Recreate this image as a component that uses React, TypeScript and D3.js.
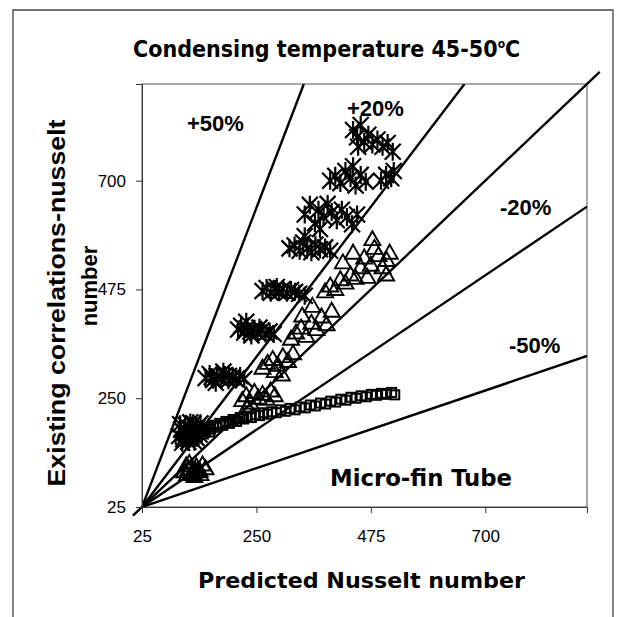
import * as React from 'react';
import { useRef, useEffect } from 'react';
import * as d3 from 'd3';

// tick values on both axes
const xTicks = [25, 250, 475, 700];
const yTicks = [25, 250, 475, 700];

// deviation lines: label, slope through (25,25)
const bandLabels = ['+50%', '+20%', '', '-20%', '-50%'];
const bandSlopes = [2.75, 1.38, 1, 0.71, 0.357];

// asterisk series
const starPoints = [
  [98, 172], [102, 185], [106, 165], [110, 195], [114, 178], [118, 188], [122, 170], [126, 198],
  [130, 182], [134, 190], [138, 175], [142, 185], [108, 180], [120, 200], [132, 168], [104, 158],
  [116, 160], [128, 160], [100, 196], [140, 198],
  [150, 292], [158, 300], [165, 288], [172, 296], [180, 290], [188, 298], [195, 287], [203, 294],
  [210, 289], [218, 296], [226, 290], [185, 305], [170, 282], [162, 294], [196, 296],
  [214, 392], [220, 400], [226, 386], [232, 395], [238, 388], [245, 393], [252, 385], [260, 390],
  [268, 384], [276, 388], [284, 383], [230, 408], [240, 380], [256, 396],
  [262, 472], [270, 478], [278, 468], [286, 475], [294, 470], [302, 476], [310, 468], [318, 474],
  [326, 470], [334, 466], [345, 462], [290, 480],
  [315, 560], [325, 566], [335, 555], [342, 572], [350, 560], [358, 552], [366, 568], [375, 558],
  [385, 562], [395, 555], [345, 585],
  [345, 630], [355, 650], [365, 612], [372, 640], [382, 625], [390, 652], [398, 635], [408, 618],
  [418, 640], [428, 625], [438, 610], [448, 630], [375, 600],
  [395, 700], [405, 710], [415, 695], [425, 720], [435, 705], [445, 690], [455, 712], [465, 698], [440, 730],
  [495, 700], [505, 712], [515, 705], [520, 720],
  [440, 805], [448, 790], [455, 815], [462, 780], [470, 795], [478, 775], [488, 785], [498, 770],
  [508, 778], [518, 760], [450, 770],
];

// open triangle series
const trianglePoints = [
  [108, 98], [114, 92], [120, 104], [126, 96], [132, 108], [138, 100], [144, 112], [150, 104],
  [118, 115], [128, 88], [140, 92], [112, 110], [122, 94], [134, 98], [116, 102], [130, 100],
  [222, 245], [230, 255], [238, 240], [246, 262], [254, 250], [262, 258], [270, 248], [278, 265],
  [286, 255], [232, 232],
  [262, 312], [272, 322], [282, 330], [292, 318], [302, 336], [312, 326], [322, 342], [286, 305], [300, 298],
  [318, 372], [328, 385], [338, 395], [348, 378], [358, 405], [368, 392], [378, 418], [388, 402],
  [398, 430], [340, 420], [360, 440],
  [385, 470], [395, 482], [405, 475], [415, 495], [425, 488], [435, 505], [445, 498], [455, 520],
  [462, 540], [420, 530], [440, 550],
  [468, 500], [475, 525], [482, 560], [490, 545], [498, 520], [506, 535], [512, 550], [505, 505], [478, 578],
];

// open square series
const squarePoints = [
  [100, 165], [104, 172], [108, 168], [112, 176], [116, 170], [120, 180], [124, 174], [128, 182],
  [132, 176], [136, 184], [140, 180], [145, 186], [150, 182], [155, 190], [160, 186], [166, 194],
  [172, 190], [178, 198], [184, 194], [190, 202], [197, 198], [204, 206], [211, 202], [218, 210],
  [225, 207], [232, 213], [240, 210], [248, 216], [256, 214], [264, 220], [272, 217], [280, 222],
  [289, 220], [298, 226], [307, 223], [316, 229], [326, 226], [336, 232], [346, 230], [356, 236],
  [366, 234], [376, 240], [386, 238], [396, 244], [406, 242], [416, 248], [426, 246], [436, 252],
  [446, 250], [456, 255], [466, 253], [476, 258], [486, 256], [496, 260], [506, 258], [516, 262], [522, 257],
  [110, 160], [122, 166], [134, 170], [146, 176], [158, 180],
];

const W = 630;
const H = 617;

const App = () => {
  const svgRef = useRef<SVGSVGElement>(null);

  useEffect(() => {
    const svg = d3.select(svgRef.current);
    svg.selectAll('*').remove();

    const left = 142, right = 587, top = 84, bottom = 507;
    const x = d3.scaleLinear().domain([25, 900]).range([left, right]);
    const y = d3.scaleLinear().domain([25, 900]).range([bottom, top]);

    svg.append('rect').attr('width', W).attr('height', H).attr('fill', '#fff');

    // outer frame (open at bottom)
    svg.append('path')
      .attr('d', `M13,${H + 5}V10H613V${H + 5}`)
      .attr('fill', 'none')
      .attr('stroke', '#444')
      .attr('stroke-width', 1.3);

    const defs = svg.append('defs');
    defs.append('clipPath').attr('id', 'plot-clip')
      .append('rect')
      .attr('x', left).attr('y', top)
      .attr('width', right - left).attr('height', bottom - top);

    // plot frame
    svg.append('rect')
      .attr('x', left).attr('y', top)
      .attr('width', right - left).attr('height', bottom - top)
      .attr('fill', 'none')
      .attr('stroke', '#555')
      .attr('stroke-width', 1);

    // deviation lines
    const lineG = svg.append('g');
    bandSlopes.forEach((s) => {
      if (s === 1) {
        lineG.append('line')
          .attr('x1', x(7)).attr('y1', y(7))
          .attr('x2', x(925)).attr('y2', y(925))
          .attr('stroke', '#000').attr('stroke-width', 2.4);
      } else {
        const xe = Math.min(900, 25 + 875 / s);
        const ye = 25 + (xe - 25) * s;
        lineG.append('line')
          .attr('clip-path', 'url(#plot-clip)')
          .attr('x1', x(25)).attr('y1', y(25))
          .attr('x2', x(xe)).attr('y2', y(ye))
          .attr('stroke', '#000').attr('stroke-width', 2.4);
      }
    });

    // axes
    const yAxis = svg.append('g')
      .attr('transform', `translate(${left},0)`)
      .call(d3.axisLeft(y).tickValues(yTicks).tickSize(6).tickPadding(10));
    const xAxis = svg.append('g')
      .attr('transform', `translate(0,${bottom})`)
      .call(d3.axisBottom(x).tickValues(xTicks).tickSize(6).tickPadding(17));
    [xAxis, yAxis].forEach((a) => {
      a.selectAll('text')
        .attr('font-family', 'Liberation Sans, Arial, sans-serif')
        .attr('font-size', 17)
        .attr('fill', '#000');
      a.selectAll('line').attr('stroke', '#333');
      a.select('.domain').attr('stroke', '#333');
    });

    // markers
    const markG = svg.append('g').attr('fill', 'none').attr('stroke', '#000');
    squarePoints.forEach(([px, py]) => {
      markG.append('rect')
        .attr('x', x(px) - 4.5).attr('y', y(py) - 4.5)
        .attr('width', 9).attr('height', 9)
        .attr('stroke-width', 2);
    });
    trianglePoints.forEach(([px, py]) => {
      const cx = x(px), cy = y(py);
      markG.append('path')
        .attr('d', `M${cx},${cy - 8.5}L${cx + 8},${cy + 5.5}L${cx - 8},${cy + 5.5}Z`)
        .attr('stroke-width', 1.9);
    });
    starPoints.forEach(([px, py]) => {
      const cx = x(px), cy = y(py), r = 8;
      markG.append('path')
        .attr('d', `M${cx - r},${cy - r}L${cx + r},${cy + r}M${cx - r},${cy + r}L${cx + r},${cy - r}M${cx},${cy - r - 1}V${cy + r + 1}`)
        .attr('stroke-width', 2.2);
    });

    // band labels
    const labelPos = [[187, 131], [347, 116], null, [500, 215], [509, 353]];
    bandLabels.forEach((t, i) => {
      const p = labelPos[i];
      if (!p) return;
      svg.append('text')
        .attr('x', p[0]).attr('y', p[1])
        .attr('font-family', 'Liberation Sans, Arial, sans-serif')
        .attr('font-weight', 'bold')
        .attr('font-size', 22)
        .text(t);
    });

    svg.append('text')
      .attr('x', 330).attr('y', 486)
      .attr('font-family', 'DejaVu Sans Condensed, DejaVu Sans, sans-serif')
      .attr('font-weight', 'bold')
      .attr('font-size', 23)
      .attr('textLength', 182)
      .attr('lengthAdjust', 'spacingAndGlyphs')
      .text('Micro-fin Tube');

    // title
    const title = svg.append('text')
      .attr('x', 133).attr('y', 57)
      .attr('font-family', 'DejaVu Sans Condensed, DejaVu Sans, sans-serif')
      .attr('font-weight', 'bold')
      .attr('font-size', 23);
    title.append('tspan').text('Condensing temperature 45-50');
    title.append('tspan').attr('dy', -9).attr('font-size', 12).text('o');
    title.append('tspan').attr('dy', 9).text('C');

    svg.append('text')
      .attr('x', 198).attr('y', 588)
      .attr('font-family', 'DejaVu Sans Condensed, DejaVu Sans, sans-serif')
      .attr('font-weight', 'bold')
      .attr('font-size', 22)
      .attr('textLength', 327)
      .attr('lengthAdjust', 'spacingAndGlyphs')
      .text('Predicted Nusselt number');

    // y title, two lines
    const yTitle = svg.append('g')
      .attr('font-family', 'Liberation Sans, Arial, sans-serif')
      .attr('font-weight', 'bold')
      .attr('font-size', 24)
      .attr('text-anchor', 'middle');
    yTitle.append('text')
      .attr('transform', 'translate(65,303) rotate(-90)')
      .attr('textLength', 367)
      .attr('lengthAdjust', 'spacingAndGlyphs')
      .text('Existing correlations-nusselt');
    yTitle.append('text')
      .attr('transform', 'translate(97,286) rotate(-90)')
      .attr('font-size', 22)
      .text('number');
  }, []);

  return (
    <svg
      ref={svgRef}
      width={W}
      height={H}
      style={{ position: 'absolute', left: 0, top: 0 }}
    ></svg>
  );
};

export default App;
